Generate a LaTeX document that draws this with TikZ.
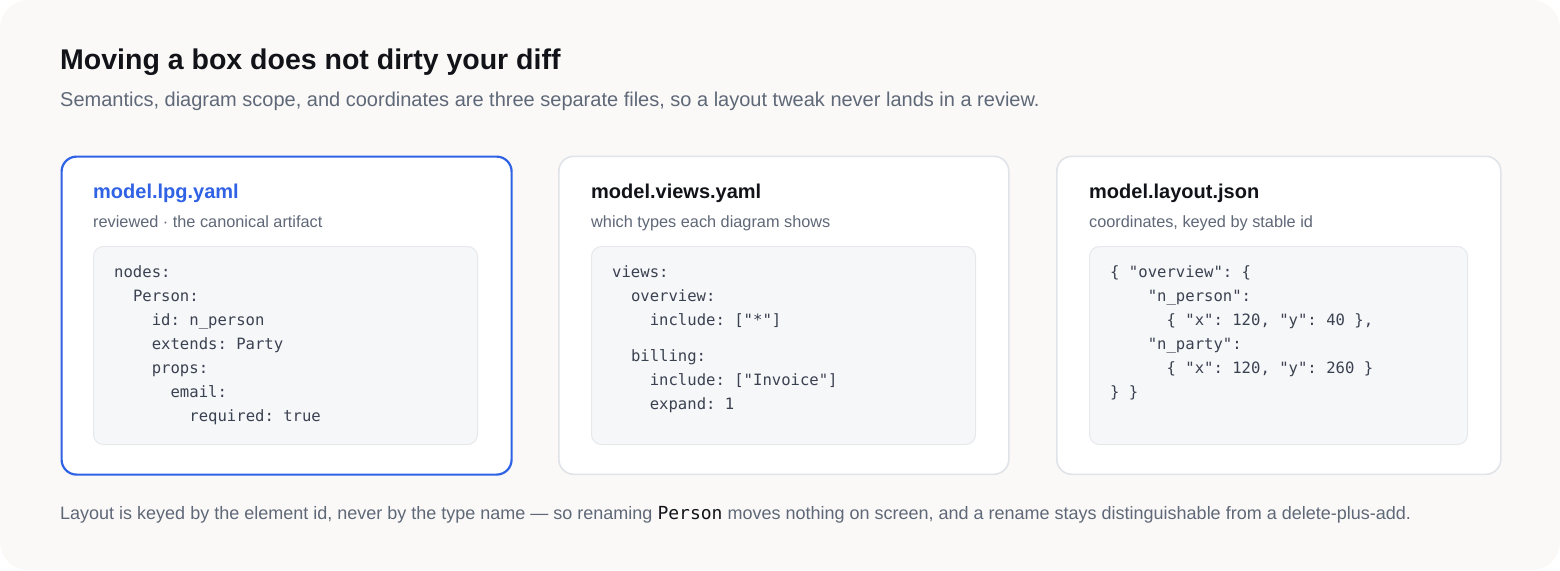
\documentclass[tikz,border=0pt]{standalone}
\usepackage{fontspec}
\setmainfont{Liberation Sans}
\setmonofont{DejaVu Sans Mono}
\usetikzlibrary{positioning}
\definecolor{pagebg}{HTML}{FAF9F7}
\definecolor{inkdark}{HTML}{111318}
\definecolor{inkgray}{HTML}{5F6878}
\definecolor{inkcode}{HTML}{3A4150}
\definecolor{cardline}{HTML}{E0E3E8}
\definecolor{accent}{HTML}{2F62E4}
\definecolor{codebg}{HTML}{F6F7F9}
\definecolor{codeline}{HTML}{E6E8EC}
\tikzset{%
	card/.style     = {draw=cardline, line width=1.6pt, fill=white, rounded corners=15pt, anchor=north west}, % File card
	codebox/.style  = {draw=codeline, line width=1pt, fill=codebg, rounded corners=10pt, anchor=north west}, % Code area
	label/.style    = {anchor=base west, inner sep=0pt},
	heading/.style  = {label, text=inkdark, font=\fontsize{28.5}{34}\selectfont\bfseries},
	lede/.style     = {label, text=inkgray, font=\fontsize{20}{24}\selectfont},
	fname/.style    = {label, text=inkdark, font=\fontsize{20}{24}\selectfont\bfseries},
	fnote/.style    = {label, text=inkgray, font=\fontsize{16.3}{19}\selectfont},
	code/.style     = {label, text=inkcode, font=\fontsize{15.6}{18}\ttfamily},
}

\begin{document}
\begin{tikzpicture}[x=1pt, y=-1pt]
		\useasboundingbox (0,0) rectangle (1560,570);
		\fill[pagebg, rounded corners=28pt] (0,0) rectangle (1560,570);
		\node[heading] (title) at (60,69) {Moving a box does not dirty your diff};
		\node[lede] (lede) at (60,106) {Semantics, diagram scope, and coordinates are three separate files, so a layout tweak never lands in a review.};
		% three file cards
		\node[card, draw=accent, line width=2.2pt, minimum width=450, minimum height=318] (lpg) at (60.5,155.5) {};
		\node[card, minimum width=450, minimum height=318] (views) at (558,155.5) {};
		\node[card, minimum width=444, minimum height=318] (layout) at (1056,155.5) {};
		\node[codebox, minimum width=384, minimum height=198] (lpgcode) at (93,246) {};
		\node[codebox, minimum width=384, minimum height=198] (viewscode) at (591,246) {};
		\node[codebox, minimum width=378, minimum height=198] (layoutcode) at (1089,246) {};
		\node[fname, text=accent] (lpgname) at (93,198) {model.lpg.yaml};
		\node[fname] (viewsname) at (591,198) {model.views.yaml};
		\node[fname] (layoutname) at (1089,198) {model.layout.json};
		\node[fnote] (lpgnote) at (93,227) {reviewed \textperiodcentered{} the canonical artifact};
		\node[fnote] (viewsnote) at (591,227) {which types each diagram shows};
		\node[fnote] (layoutnote) at (1089,227) {coordinates, keyed by stable id};
		% code lines: row / indent in characters / text
		\foreach \r/\i/\t in {0/0/{nodes:}, 1/2/{Person:}, 2/4/{id: n\_person}, 3/4/{extends: Party},
				4/4/{props:}, 5/6/{email:}, 6/8/{required: true}}
			\node[code] at (114+\i*9.4, 277+\r*24) {\t};
		\foreach \r/\i/\t in {0/0/{views:}, 1/2/{overview:}, 2/4/{include: ["*"]},
				3.5/2/{billing:}, 4.5/4/{include: ["Invoice"]}, 5.5/4/{expand: 1}}
			\node[code] at (612+\i*9.4, 277+\r*24) {\t};
		\foreach \r/\i/\t in {0/0/{\{ "overview": \{}, 1/4/{"n\_person":}, 2/6/{\{ "x": 120, "y": 40 \},},
				3/4/{"n\_party":}, 4/6/{\{ "x": 120, "y": 260 \}}, 5/0/{\} \}}}
			\node[code] at (1110+\i*9.4, 277+\r*24) {\t};
		\node[lede, font=\fontsize{18}{22}\selectfont] (foot) at (60,519) {Layout is keyed by the element id, never by the type name \textemdash{} so renaming \textcolor{inkdark}{\texttt{Person}} moves nothing on screen, and a rename stays distinguishable from a delete-plus-add.};
\end{tikzpicture}
\end{document}
